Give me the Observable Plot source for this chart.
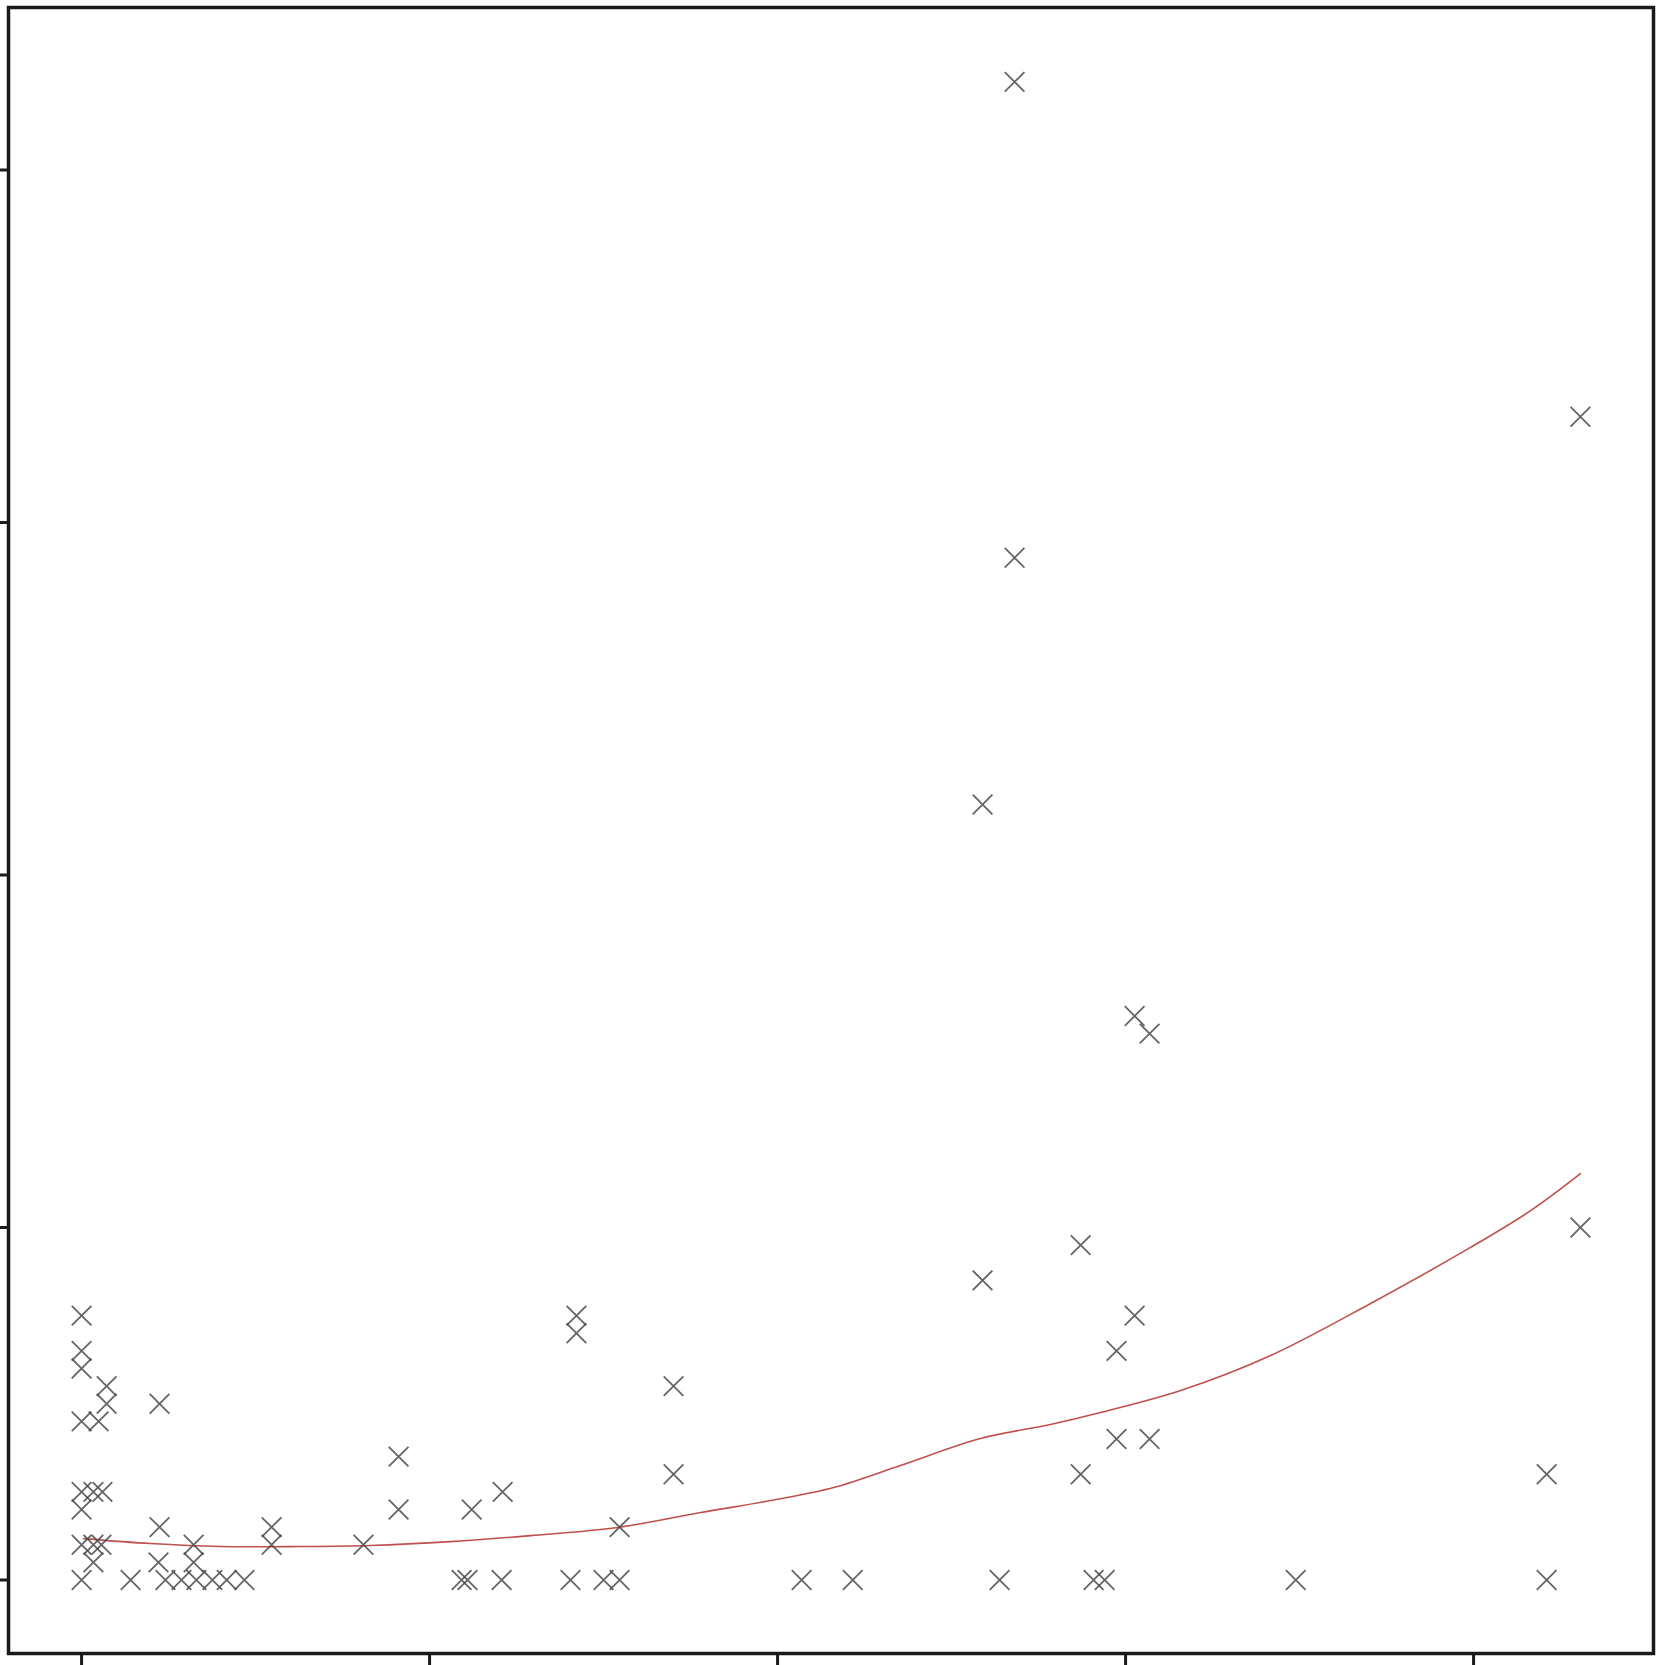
<!DOCTYPE html>
<html>
<head>
<meta charset="utf-8">
<script src="https://cdn.jsdelivr.net/npm/d3@7"></script>
<script src="https://cdn.jsdelivr.net/npm/@observablehq/plot@0.6"></script>
<style>
  html, body { margin: 0; padding: 0; background: #fff; }
  #chart svg { display: block; }
</style>
</head>
<body>
<div id="chart"></div>
<script>
// Scatter points (x, y)
const pointX = [
  0, 0, 0, 0.72, 0.72, 2.24, 0, 0.49, 0, 0.34, 0.60, 0, 2.24, 0, 0.34, 0.57, 0.34, 2.21, 3.22, 3.22, 5.46, 5.46, 8.10,
  0, 1.41, 2.41, 2.87, 3.30, 3.76, 4.17, 4.68,
  9.11, 9.11, 11.21, 12.10, 14.22, 14.22, 17.01, 17.01, 15.46,
  10.92, 11.09, 12.07, 14.05, 15.00, 15.46,
  25.89, 28.71, 30.26, 29.74, 29.74, 30.69, 28.71, 42.10, 43.07, 25.89, 30.26, 30.69, 26.81, 26.81, 43.07,
  20.69, 22.16, 26.38, 29.08, 29.40, 34.89, 42.10
];
const pointY = [
  15, 13, 12, 11, 10, 10, 9, 9, 5, 5, 5, 4, 3, 2, 2, 2, 1, 1, 2, 1, 3, 2, 2,
  0, 0, 0, 0, 0, 0, 0, 0,
  7, 4, 4, 5, 15, 14, 11, 6, 3,
  0, 0, 0, 0, 0, 0,
  17, 19, 15, 13, 8, 8, 6, 6, 20, 44, 32, 31, 85, 58, 66,
  0, 0, 0, 0, 0, 0, 0
];

// Smoothed fit curve
const curveX = [0.06, 1.98, 3.99, 6.29, 8.30, 10.60, 12.90, 15.40, 17.79, 19.80, 21.61, 23.53, 25.83, 27.84, 29.28, 31.58, 34.17, 37.04, 39.91, 41.64, 43.07];
const curveY = [2.35, 2.07, 1.90, 1.90, 1.96, 2.18, 2.52, 2.98, 3.83, 4.51, 5.25, 6.50, 8.03, 8.82, 9.50, 10.75, 12.74, 15.69, 18.87, 20.96, 23.06];

// Tick positions (no labels shown)
const xTicks = [0, 10, 20, 30, 40];
const yTicks = [0, 20, 40, 60, 80];

const points = pointX.map((x, i) => ({x, y: pointY[i]}));
const curve = curveX.map((x, i) => ({x, y: curveY[i]}));

const chart = Plot.plot({
  width: 1656,
  height: 1665,
  marginLeft: 8,
  marginRight: 3,
  marginTop: 7,
  marginBottom: 12,
  style: {background: "#fff"},
  x: {domain: [-2.10, 45.17]},
  y: {domain: [-4.17, 89.22]},
  marks: [
    Plot.frame({stroke: "#1a1a1a", strokeWidth: 3.5}),
    Plot.axisX({ticks: xTicks, tickSize: 12, tickFormat: () => "", label: null, stroke: "#1a1a1a", strokeWidth: 3}),
    Plot.axisY({ticks: yTicks, tickSize: 8, tickFormat: () => "", label: null, stroke: "#1a1a1a", strokeWidth: 3}),
    Plot.line(curve, {x: "x", y: "y", stroke: "#c0504d", strokeWidth: 1.6, curve: "catmull-rom"}),
    Plot.dot(points, {x: "x", y: "y", symbol: "times", r: 9, stroke: "#4a4a4a", strokeWidth: 1.8, strokeOpacity: 0.85})
  ]
});
document.getElementById("chart").appendChild(chart);
</script>
</body>
</html>
